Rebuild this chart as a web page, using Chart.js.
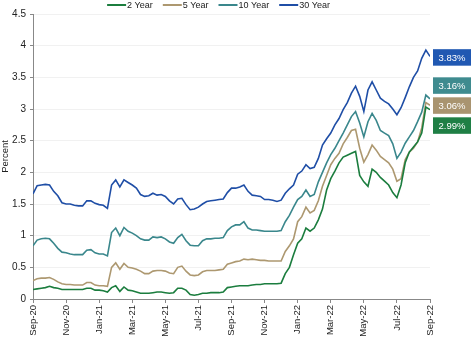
<!DOCTYPE html>
<html><head><meta charset="utf-8">
<script src="https://cdn.jsdelivr.net/npm/chart.js@4/dist/chart.umd.min.js"></script>
<style>html,body{margin:0;padding:0;background:#fff}#wrap{width:474px;height:337px}</style>
</head><body><div id="wrap"><canvas id="c" width="474" height="337"></canvas></div>
<script>
// Month tick labels (every 2 months from Sep-20)
const monthTicks = ['Sep-20','Nov-20','Jan-21','Mar-21','May-21','Jul-21','Sep-21','Nov-21','Jan-22','Mar-22','May-22','Jul-22','Sep-22'];
const seriesNames = ['2 Year','5 Year','10 Year','30 Year'];
// Values sampled every quarter month from Sep-20 to Sep-22 (percent)
const yield2 = [
 0.15,0.16,0.17,0.18, 0.20,0.18,0.17,0.15, 0.15,0.15,0.15,0.15, 0.15,0.17,0.17,0.14,
 0.14,0.13,0.11,0.18, 0.21,0.12,0.19,0.14, 0.13,0.11,0.09,0.09, 0.09,0.10,0.11,0.11,
 0.10,0.09,0.10,0.17, 0.17,0.14,0.07,0.06, 0.07,0.09,0.09,0.10, 0.10,0.10,0.11,0.18,
 0.19,0.20,0.21,0.21, 0.21,0.22,0.23,0.23, 0.24,0.24,0.24,0.24, 0.25,0.40,0.50,0.70,
 0.88,0.95,1.12,1.07, 1.12,1.25,1.42,1.72, 1.90,2.02,2.15,2.24, 2.27,2.30,2.33,1.95,
 1.85,1.78,2.05,2.00, 1.92,1.86,1.80,1.68, 1.60,1.80,2.15,2.32, 2.40,2.48,2.62,3.03,
 2.99];
const yield5 = [
 0.29,0.32,0.33,0.33, 0.34,0.31,0.27,0.24, 0.23,0.23,0.22,0.22, 0.22,0.26,0.26,0.22,
 0.21,0.21,0.20,0.50, 0.57,0.47,0.56,0.50, 0.49,0.47,0.44,0.40, 0.40,0.44,0.45,0.45,
 0.44,0.41,0.40,0.50, 0.52,0.44,0.38,0.37, 0.38,0.43,0.45,0.45, 0.45,0.46,0.47,0.55,
 0.57,0.59,0.60,0.63, 0.62,0.63,0.62,0.61, 0.61,0.60,0.60,0.60, 0.60,0.75,0.84,0.95,
 1.22,1.30,1.45,1.36, 1.40,1.55,1.78,1.95, 2.12,2.22,2.30,2.45, 2.55,2.66,2.68,2.38,
 2.16,2.28,2.43,2.35, 2.25,2.20,2.15,2.05, 1.86,1.90,2.20,2.32, 2.38,2.48,2.70,3.10,
 3.06];
const yield10 = [
 0.84,0.93,0.95,0.96, 0.95,0.88,0.80,0.74, 0.73,0.71,0.70,0.70, 0.70,0.77,0.78,0.73,
 0.71,0.71,0.68,1.05, 1.12,1.00,1.13,1.07, 1.04,1.00,0.95,0.93, 0.93,0.98,0.97,0.98,
 0.95,0.90,0.88,0.97, 1.02,0.92,0.85,0.84, 0.84,0.92,0.95,0.95, 0.96,0.96,0.97,1.08,
 1.14,1.17,1.17,1.22, 1.12,1.09,1.09,1.08, 1.07,1.07,1.07,1.07, 1.08,1.22,1.32,1.45,
 1.57,1.62,1.72,1.62, 1.65,1.85,2.00,2.15, 2.28,2.38,2.50,2.62, 2.75,2.88,2.96,2.78,
 2.56,2.80,2.93,2.82, 2.66,2.62,2.58,2.45, 2.22,2.32,2.46,2.56, 2.66,2.80,2.95,3.22,
 3.16];
const yield30 = [
 1.66,1.79,1.80,1.81, 1.80,1.70,1.63,1.52, 1.50,1.50,1.48,1.47, 1.47,1.55,1.55,1.51,
 1.49,1.48,1.43,1.80, 1.88,1.77,1.88,1.84, 1.80,1.75,1.65,1.62, 1.63,1.67,1.64,1.65,
 1.62,1.55,1.50,1.58, 1.59,1.49,1.41,1.42, 1.45,1.50,1.54,1.55, 1.56,1.57,1.58,1.68,
 1.75,1.75,1.77,1.80, 1.70,1.64,1.63,1.62, 1.57,1.57,1.56,1.54, 1.56,1.67,1.74,1.80,
 1.97,2.02,2.12,2.06, 2.08,2.22,2.43,2.53, 2.62,2.75,2.85,2.99, 3.10,3.25,3.36,3.20,
 2.96,3.30,3.43,3.30, 3.17,3.12,3.08,3.00, 2.91,3.02,3.18,3.35, 3.50,3.60,3.80,3.93,
 3.83];
const allSeries = [yield2, yield5, yield10, yield30];
const lineColors = ['#1b7d3e', '#ad9870', '#3a878c', '#1f4ea6'];
const boxColors  = ['#1f7f45', '#a99470', '#3f8b8f', '#2058b2'];
const FONT = '"Liberation Sans", Arial, Helvetica, sans-serif';

const datasets = allSeries.map((vals, k) => ({
  label: seriesNames[k],
  data: vals.map((v, i) => ({ x: i / 4, y: v })),
  borderColor: lineColors[k],
  backgroundColor: lineColors[k],
  borderWidth: 1.6,
  pointRadius: 0,
  tension: 0,
  fill: false
}));

const customLegend = {
  id: 'customLegend',
  afterDraw(chart) {
    const ctx = chart.ctx;
    ctx.save();
    ctx.font = '9px ' + FONT;
    const lineLen = 19, gapText = 1, gapItem = 10;
    const items = chart.data.datasets.map(ds => ({ text: ds.label, color: ds.borderColor, w: ctx.measureText(ds.label).width }));
    const total = items.reduce((s, it) => s + lineLen + gapText + it.w, 0) + gapItem * (items.length - 1);
    const center = (chart.chartArea.left + chart.chartArea.right) / 2 - 13;
    let x = center - total / 2;
    const y = 5;
    ctx.textBaseline = 'middle';
    ctx.textAlign = 'left';
    items.forEach(it => {
      ctx.strokeStyle = it.color; ctx.lineWidth = 2;
      ctx.beginPath(); ctx.moveTo(x, y); ctx.lineTo(x + lineLen, y); ctx.stroke();
      ctx.fillStyle = '#222';
      ctx.fillText(it.text, x + lineLen + gapText, y + 0.5);
      x += lineLen + gapText + it.w + gapItem;
    });
    ctx.restore();
  }
};

const endLabels = {
  id: 'endLabels',
  afterDatasetsDraw(chart) {
    const ctx = chart.ctx;
    const ys = chart.scales.y;
    const items = chart.data.datasets.map((ds, k) => {
      const v = ds.data[ds.data.length - 1].y;
      return { y: ys.getPixelForValue(v), text: v.toFixed(2) + '%', color: boxColors[k] };
    }).sort((a, b) => a.y - b.y);
    const G = 20, H = 16.5;
    let groups = items.map(it => ({ items: [it], center: it.y }));
    let merged = true;
    while (merged) {
      merged = false;
      for (let i = 0; i < groups.length - 1; i++) {
        const a = groups[i], b = groups[i + 1];
        const aBottom = a.center + (a.items.length - 1) * G / 2;
        const bTop = b.center - (b.items.length - 1) * G / 2;
        if (bTop - aBottom < G) {
          const its = a.items.concat(b.items);
          const c = its.reduce((s, x) => s + x.y, 0) / its.length;
          groups.splice(i, 2, { items: its, center: c });
          merged = true; break;
        }
      }
    }
    const bx = chart.chartArea.right + 3, bw = 38;
    ctx.save();
    ctx.font = '9.5px ' + FONT;
    ctx.textAlign = 'center';
    ctx.textBaseline = 'middle';
    groups.forEach(g => {
      g.items.forEach((it, j) => {
        const cy = g.center + (j - (g.items.length - 1) / 2) * G + 1;
        ctx.fillStyle = it.color;
        ctx.fillRect(bx, cy - H / 2, bw, H);
        ctx.fillStyle = '#ffffff';
        ctx.fillText(it.text, bx + bw / 2, cy + 0.5);
      });
    });
    ctx.restore();
  }
};

new Chart(document.getElementById('c'), {
  type: 'line',
  data: { datasets },
  options: {
    responsive: false,
    animation: false,
    devicePixelRatio: 1,
    layout: { padding: { left: 0, right: 44, top: 14, bottom: 0 } },
    plugins: { legend: { display: false }, tooltip: { enabled: false } },
    scales: {
      x: {
        type: 'linear', min: 0, max: 24,
        afterFit: s => { s.height = 38; },
        ticks: {
          stepSize: 2, autoSkip: false, minRotation: 90, maxRotation: 90,
          callback: v => monthTicks[Math.round(v / 2)],
          font: { family: FONT, size: 9.5 }, color: '#222', padding: 2
        },
        grid: { drawOnChartArea: false, drawTicks: true, tickLength: 4, tickColor: '#888' },
        border: { color: '#888' }
      },
      y: {
        min: 0, max: 4.5,
        afterFit: s => { s.width = 33; },
        ticks: {
          stepSize: 0.5, callback: v => String(v),
          font: { family: FONT, size: 10 }, color: '#222', padding: 4
        },
        grid: { color: '#f1f1f1', tickColor: '#888', tickLength: 3 },
        border: { color: '#888' },
        title: { display: true, text: 'Percent', font: { family: FONT, size: 9.5 }, color: '#222', padding: { top: 0, bottom: 0 } }
      }
    }
  },
  plugins: [customLegend, endLabels]
});
</script>
</body></html>
